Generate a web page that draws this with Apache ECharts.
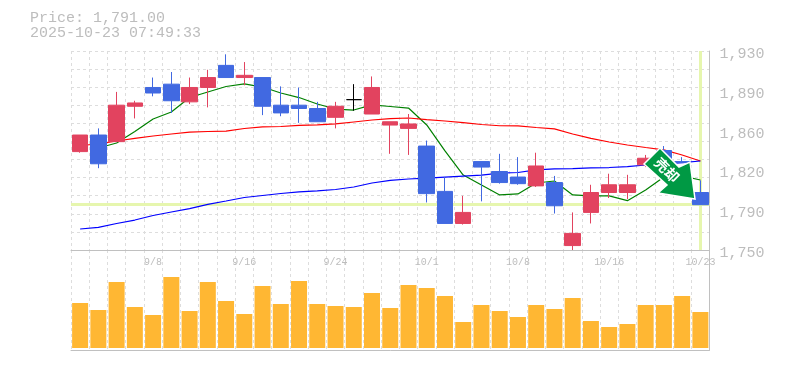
<!DOCTYPE html>
<html>
<head>
<meta charset="utf-8">
<style>
html,body{margin:0;padding:0;background:#fff;}
#chart{width:785px;height:370px;}
</style>
<script src="https://cdn.jsdelivr.net/npm/echarts@6/dist/echarts.min.js"></script>
</head>
<body>
<div id="chart"></div>
<script>
var titleLines = ['Price: 1,791.00', '2025-10-23 07:49:33'];
var lastPrice = 1791;
var dates = ['9/2','9/3','9/4','9/5','9/8','9/9','9/10','9/11','9/12','9/16','9/17','9/18','9/19','9/22','9/24',
    '9/25','9/26','9/29','9/30','10/1','10/2','10/3','10/6','10/7','10/8','10/9','10/10','10/14','10/15','10/16',
    '10/17','10/20','10/21','10/22','10/23'];
var opens = [1839,1854,1848,1880,1897,1900,1884,1897,1917,1906,1906,1881,1881,1878,1870,1886,1873,1863,1860,1844,1803,1774,1830,1821,1816,1808,1811,1754,1784,1802,1802,1827,1840,1830,1802];
var closes = [1854,1828,1881,1883,1892,1885,1897,1906,1906,1908,1880,1874,1878,1866,1880,1886,1897,1866,1864,1801,1774,1784,1825,1811,1810,1826,1790,1765,1802,1809,1809,1833,1824,1829,1791];
var lows = [1838,1824,1848,1869,1889,1874,1882,1879,1906,1899,1872,1871,1865,1866,1860,1876,1873,1837,1836,1793,1774,1773,1794,1810,1809,1807,1783,1750,1774,1797,1796,1825,1820,1829,1791];
var highs = [1854,1860,1893,1885,1906,1911,1906,1913,1927,1920,1906,1898,1897,1884,1884,1900,1907,1866,1873,1849,1816,1799,1830,1837,1834,1838,1817,1784,1809,1819,1818,1836,1844,1834,1813];
var maShort = [null,1842.3,1846.8,1857.2,1868.5,1874.8,1887.9,1892.9,1897.9,1900.2,1897.4,1892,1887.9,1882.1,1877.5,1876.6,1881.2,1879.8,1878.4,1863.1,1839.6,1817.8,1808.8,1799.8,1800.7,1810.6,1812.4,1799.8,1798.9,1798.9,1794.6,1804.3,1816,1817,1813.3];
var maMid = [1844.5,1845.9,1848.6,1850.9,1853.1,1854.9,1856.7,1857.2,1857.6,1859.9,1861.3,1861.7,1862.8,1863.1,1864,1865.8,1867.6,1868.9,1869.4,1868,1866.7,1865.3,1863.5,1862.4,1862.2,1860.8,1859.5,1854.9,1850.9,1847.7,1845,1842.7,1840.5,1835.9,1830.5];
var maLong = [1769,1770.4,1774,1777.1,1781.2,1784.4,1787.5,1791.2,1794.3,1797.5,1799.3,1801.1,1802.5,1803.4,1804.7,1807,1810.6,1812.9,1814.2,1815.1,1816,1816.9,1817.8,1819.6,1820.1,1822.4,1823.3,1823.6,1824.2,1824.6,1825.5,1826.9,1827.8,1829.1,1830.5];
var volumes = [45,38,66,41,33,71,37,66,47,34,62,44,67,44,42,41,55,40,63,60,52,26,43,37,31,43,39,50,27,21,24,43,43,52,36];
var priceTicks = [1750,1786,1822,1858,1894,1930];
var arrowText = '売却';

var monoFont = '"Liberation Mono", monospace';
var grey = '#bdbdbd';
var frame = '#c0c0c0';
var dash = {color:'#dddddd', type:[3,3], width:1};

// 始値=終値の日は黒
var candles = dates.map(function(d, i){
    var item = {value:[opens[i], closes[i], lows[i], highs[i]]};
    if(opens[i] == closes[i]){
        item.itemStyle = {color:'#000', color0:'#000', borderColor:'#000', borderColor0:'#000'};
    }
    return item;
});

var myChart = echarts.init(document.getElementById('chart'), null, {renderer:'canvas'});
var option = {
    animation: false,
    backgroundColor: '#fff',
    grid: [
        {left:71, right:75.5, top:51, height:199},
        {left:71, right:75.5, top:250, height:100}
    ],
    xAxis: [
        {
            type:'category', gridIndex:0, data:dates,
            axisLine:{show:true, onZero:false, lineStyle:{color:frame}},
            axisTick:{show:false},
            axisLabel:{
                margin:7, fontSize:10, color:grey, fontFamily:monoFont,
                interval:function(i){ return i % 5 == 4; }
            },
            splitLine:{show:true, interval:0, lineStyle:dash}
        },
        {
            type:'category', gridIndex:1, data:dates,
            axisLine:{show:true, onZero:false, lineStyle:{color:frame}},
            axisTick:{show:false},
            axisLabel:{show:false},
            splitLine:{show:true, interval:0, lineStyle:dash}
        }
    ],
    yAxis: [
        {
            type:'value', gridIndex:0, position:'right', min:1750, max:1930, scale:true,
            axisLine:{show:true, lineStyle:{color:frame}},
            axisTick:{show:false},
            splitLine:{show:false},
            axisLabel:{
                customValues:priceTicks, margin:10, fontSize:15, color:grey, fontFamily:monoFont,
                verticalAlign:'top', lineHeight:6,
                formatter:function(v){
                    return (Math.round(v / 10) * 10).toLocaleString('en-US');
                }
            }
        },
        {
            // 横の点線だけ
            type:'value', gridIndex:0, position:'left', min:0, max:11, interval:1,
            axisLine:{show:false}, axisTick:{show:false}, axisLabel:{show:false},
            splitLine:{show:true, lineStyle:dash}
        },
        {
            type:'value', gridIndex:1, position:'right', min:-2, max:98,
            axisLine:{show:true, lineStyle:{color:frame}},
            axisTick:{show:false}, axisLabel:{show:false}, splitLine:{show:false}
        }
    ],
    series: [
        {
            name:'short', type:'line', xAxisIndex:0, yAxisIndex:0, data:maShort, showSymbol:false, z:1,
            lineStyle:{color:'#008000', width:1.2},
            markLine:{
                silent:true, symbol:'none', z:1, animation:false,
                label:{show:false},
                lineStyle:{color:'#e6f6ae', width:3, type:'solid'},
                data:[{yAxis:lastPrice}, {xAxis:dates[dates.length - 1]}]
            }
        },
        {name:'mid', type:'line', xAxisIndex:0, yAxisIndex:0, data:maMid, showSymbol:false, z:1, lineStyle:{color:'#ff0000', width:1.2}},
        {name:'long', type:'line', xAxisIndex:0, yAxisIndex:0, data:maLong, showSymbol:false, z:1, lineStyle:{color:'#0000ff', width:1.2}},
        {
            name:'price', type:'candlestick', xAxisIndex:0, yAxisIndex:0, data:candles, barWidth:16, z:2,
            itemStyle:{color:'#e2435f', color0:'#4169e1', borderColor:'#e2435f', borderColor0:'#4169e1', borderWidth:1}
        },
        {
            name:'volume', type:'bar', xAxisIndex:1, yAxisIndex:2, data:volumes, barWidth:16,
            itemStyle:{color:'#ffb733'}
        }
    ],
    graphic: [
        {type:'text', left:30, top:11, style:{text:titleLines[0], font:'15px ' + monoFont, fill:grey}},
        {type:'text', left:30, top:26, style:{text:titleLines[1], font:'15px ' + monoFont, fill:grey}},
        {
            type:'polygon', z:10,
            shape:{points:[[660,148],[679,167],[690,162],[695,199],[658,193],[667,185],[644,164]]},
            style:{fill:'#009944', stroke:'#fff', lineWidth:1.5}
        },
        {
            type:'text', z:11, x:667, y:170, rotation:-Math.PI / 4,
            style:{text:arrowText, font:'bold 14px "Noto Sans CJK JP"', fill:'#fff', align:'center', verticalAlign:'middle'}
        }
    ]
};
myChart.setOption(option);
</script>
</body>
</html>
